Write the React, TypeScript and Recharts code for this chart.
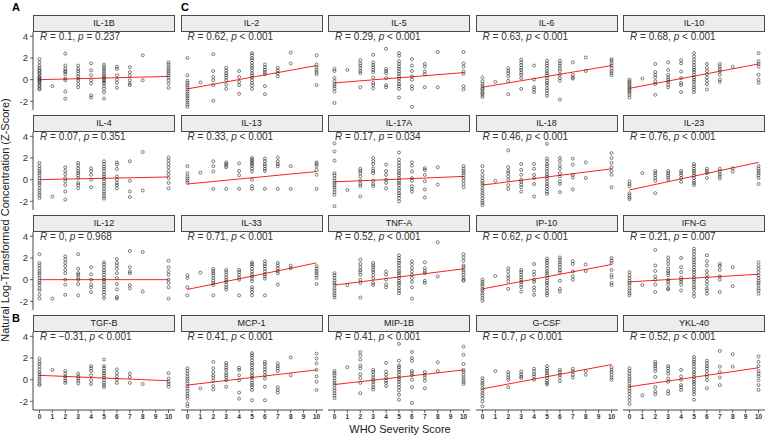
import React from 'react';
import { ScatterChart, Scatter, XAxis, YAxis, ReferenceLine } from 'recharts';

// WHO severity categories (x) present in the data
const severity = [0, 1, 2, 3, 4, 5, 6, 7, 8, 10];
const severityTicks = [0, 1, 2, 3, 4, 5, 6, 7, 8, 9, 10];
const zTicks = [-2, 0, 2, 4];

// Z-scores per severity category (one inner array per category in `severity`)
const il1b = [
  [1.9, 1.6, 1.3, 1.1, 0.9, 0.8, 0.6, 0.5, 0.3, 0.2, 0.1, 0, -0.1, -0.2, -0.3, -0.5, -0.6, -0.8, -0.9],
  [-0.6],
  [2.4, 1.3, 1.0, 0.8, 0.7, 0.5, 0.1, -0.05, -1.1, -1.75],
  [1.3, 1.0, 0.8, 0.55, 0.3, 0.1, -0.1, -0.4, -0.7],
  [1.5, 0.85, 0.4, -0.05, -0.35, -1.45, -1.65],
  [1.4, 1.2, 1.0, 0.8, 0.6, 0.4, 0.25, 0.1, -0.05, -0.2, -0.35, -0.6, -0.85, -1.15, -1.75],
  [1.2, 1.0, 0.4, 0, -0.3, -0.75],
  [1.15, 0.7, 0.4, -0.05, -0.35, -0.5],
  [2.25, -0.05],
  [1.6, 1.4, 1.2, 1.0, 0.8, 0.6, 0.4, 0.2, -0.05, -0.35, -0.75],
];
const il2 = [
  [2.0, 0.4, -0.1, -0.3, -0.5, -0.7, -0.9, -1.1, -1.3, -1.5, -1.7, -1.9, -2.1, -2.3, -2.5],
  [-0.25],
  [2.35, 0.8, 0.25, -0.05, -0.5, -1.95],
  [1.1, 0.85, 0.6, 0.4, 0.2, -0.05, -0.45, -0.85],
  [0.8, 0.25, -0.2, -0.5, -1.3],
  [2.45, 2.25, 2.0, 1.8, 1.55, 1.3, 1.1, 0.85, 0.6, 0.4, 0.2, -0.05, -0.3, -0.55, -0.85],
  [1.4, 1.15, 0.9, 0.7, 0.5, -0.6, -1.35],
  [1.1, 0.85, 0.6, 0.3],
  [2.5, 1.5],
  [2.25, 1.4, 1.15, 0.9, 0.7, 0.5, -0.5],
];
const il5 = [
  [1.0, 0.8, 0.15, -0.15, -0.4, -0.6, -0.8, -1.1, -2.15],
  [0.9],
  [1.8, 1.5, 1.3, 1.05, 0.8, 0.6, -0.7],
  [2.3, 1.6, 1.35, 1.15, 0.9, 0.7, 0.2, -0.3, -0.5, -0.8],
  [2.85, 1.0, 0.8, 0.6, 0.15, -0.5, -0.7],
  [2.45, 2.2, 1.7, 1.45, 1.2, 1.0, 0.75, 0.55, 0.3, 0.1, -0.15, -0.4, -0.6, -0.85, -1.65],
  [1.9, 1.3, 0.8, 0.3, 0, -0.6, -0.85, -2.5],
  [1.45, 1.2, 0.75, 0.5, -0.7],
  [2.55, -0.7],
  [2.55, 1.5, 1.2, 0.75, 0.55, -0.6, -0.9],
];
const il6 = [
  [0.2, -0.15, -0.4, -0.6, -0.8, -0.9, -1.1, -1.25, -1.4, -1.6],
  [-0.2],
  [1.05, 0.8, 0.6, 0.3, -0.1, -1.35],
  [1.85, 1.6, 1.35, 1.1, 0.9, 0.65, 0.45, 0.15, -0.85],
  [1.3, 0, -0.7, -0.9, -1.15],
  [1.75, 1.5, 1.3, 1.05, 0.8, 0.6, 0.4, 0.15, -0.1, -0.3, -0.5, -0.8, -1.0, -1.25, -1.5],
  [1.75, 1.5, 1.3, 1.05, 0.8, 0.45, 0.15, -0.1, -1.85],
  [1.6, 0.45, 0.2, 0.1],
  [2.05, 0.8],
  [1.9, 1.75, 1.5, 1.3, 1.05, 0.8, 0.6, 0.4],
];
const il10 = [
  [0, -0.15, -0.3, -0.45, -0.6, -0.75, -0.9, -1.05, -1.2, -1.4, -1.65],
  [0.1],
  [1.45, 0.7, 0.45, 0.2, -0.15, -0.4, -1.4],
  [1.6, 0.9, 0.45, 0.2, 0, -0.2, -0.45, -0.7],
  [1.8, 1.5, 0.75, 0.15, -0.3, -0.5, -1.15],
  [2.45, 2.15, 1.85, 1.6, 1.35, 1.1, 0.9, 0.7, 0.45, 0.2, 0, -0.2, -0.45, -0.7, -0.9, -1.15],
  [1.45, 1.1, 0.8, 0.5, 0.2, -0.1, -0.4, -0.9],
  [1.45, 1.2, 1.0, 0.75, 0.45, 0, -0.2],
  [1.2],
  [2.45, 1.7, 1.45, 1.2, 0.45, 0, -0.3],
];
const il4 = [
  [1.55, 1.25, 1.0, 0.8, 0.6, 0.4, 0.15, -0.1, -0.3, -0.5, -0.8, -1.0, -1.25, -1.45, -1.7],
  [-1.55],
  [1.15, 0.8, 0.5, 0.15, -0.15, -0.5, -1.1, -1.85],
  [1.55, 1.3, 1.05, 0.8, 0.6, 0.4, 0.15, -0.3, -0.5, -0.8],
  [1.05, 0.8, 0.45, 0, -0.7],
  [1.7, 1.45, 1.2, 1.0, 0.75, 0.5, 0.3, 0.1, -0.15, -0.4, -0.6, -0.85, -1.1, -1.3, -1.55, -1.75],
  [1.6, 1.4, 1.0, 0.3, 0, -0.3, -0.5, -0.8],
  [1.7, -0.1, -1.1, -1.6],
  [2.55, -1.0],
  [2.05, 1.75, 1.45, 1.15, 0.8, 0.5, 0.15, -0.3, -0.8],
];
const il13 = [
  [1.25, 0.6, 0.3, 0.1, -0.1, -0.3],
  [0.65],
  [1.7, 1.25, 0.75, -0.85],
  [1.6, 1.45, 1.3, 1.15, -0.85],
  [1.5, 0.8, 0.4, -0.85],
  [2.0, 1.85, 1.7, 1.55, 1.4, 1.25, 1.0, 0.75, 0, -0.6, -0.85],
  [1.95, 1.7, 1.45, 1.25, 1.0, 0.8, -0.85],
  [2.05, 1.7, 1.45, 1.25, -0.85],
  [1.25, -0.85],
  [1.6, 1.45, 1.25, 0.9, 0.45, -0.85],
];
const il17a = [
  [3.35, 2.6, 1.75, 0.6, 0.4, 0.15, -0.1, -0.3, -0.5, -0.7, -0.9, -1.15, -1.4, -2.45],
  [-0.95],
  [1.0, 0.8, 0.6, 0.3, -0.1, -0.4, -0.6, -1.55],
  [2.0, 1.7, 1.45, 1.05, 0.8, 0.6, -0.1, -0.4, -0.6],
  [1.4, 0.8, 0.45, 0, -0.3, -0.8],
  [2.5, 1.85, 1.55, 1.3, 1.05, 0.8, 0.6, 0.4, 0.15, -0.1, -0.3, -0.5, -0.8, -1.0, -1.25, -1.45, -1.7, -2.0],
  [1.6, 1.3, 0.75, 0.15, -0.1, -0.6, -0.85, -1.1],
  [1.05, 0.9, 0.45, -0.15, -0.9, -1.65],
  [1.15, -0.45],
  [1.25, 1.0, 0.8, 0.6, 0.4, 0.15, -0.1, -0.4, -0.7],
];
const il18 = [
  [1.25, 0.8, 0.45, 0.15, -0.1, -0.3, -0.5, -0.8, -1.0, -1.25, -1.45, -1.7, -1.95, -2.15, -2.35],
  [-0.1],
  [2.7, 1.15, 0.8, 0.6, 0.3, 0, -0.5, -0.85],
  [1.45, 0.9, 0.45, 0, -0.2, -0.45, -0.7, -1.1],
  [1.45, 1.0, 0.45, 0.15, -0.4, -1.55],
  [3.3, 1.95, 1.7, 1.45, 1.25, 1.0, 0.75, 0.5, 0.3, 0.1, -0.15, -0.4, -0.6, -0.85, -1.1, -1.3],
  [2.0, 1.7, 1.3, 1.0, 0.6, 0.3, -0.15, -0.4, -1.15],
  [1.95, 1.4, 0.45, 0.2, -0.9],
  [1.6, 0.15],
  [2.45, 2.0, 1.55, 1.15, 0.8, 0.45, -0.7],
];
const il23 = [
  [-0.15, -0.4, -0.6, -1.25, -1.45, -1.65, -1.8],
  [0.6],
  [0.8, 0.6, 0.4, 0.15, -0.1, -1.25],
  [0.8, 0.6, 0.4, 0.2, 0],
  [0.8, 0.6, 0.4, 0.15, -0.2],
  [1.45, 1.25, 1.0, 0.8, 0.6, 0.4, 0.15, -0.1, -0.3, -0.5],
  [1.0, 0.8, 0.6, 0.15],
  [1.0, 0.75, 0.5, 0.3, 0.1],
  [1.05, 0.75],
  [1.25, 1.0, 0.8, 0.6, 0.4, 0.15, -0.4],
];
const il12 = [
  [2.35, 1.55, 1.3, 1.05, 0.8, 0.6, 0.4, 0.15, -0.1, -0.3, -0.5, -0.8, -1.0, -1.4, -1.75],
  [-1.75],
  [2.15, 1.85, 1.55, 1.25, 0.9, 0.6, 0, -0.45, -1.4],
  [2.35, 1.0, 0.6, 0.45, 0.2, 0, -0.4, -1.45],
  [1.15, 0.5, 0, -0.45, -0.7, -1.15],
  [1.6, 1.4, 1.15, 0.9, 0.7, 0.45, 0.2, 0, -0.2, -0.45, -0.7, -0.9, -1.15, -1.4, -1.7],
  [1.9, 1.55, 1.3, 1.0, 0.6, 0.15, -0.4, -0.9, -1.6, -1.75],
  [2.65, 1.15, 0.75, 0.6, -0.5, -0.8],
  [2.55, -1.1],
  [1.75, 1.15, 0.75, 0.45, 0, -0.3, -0.7, -1.75],
];
const il33 = [
  [0.4, 0.15, -0.7, -1.45],
  [0.65],
  [1.0, 0.8, 0.6, 0.4, 0.15, -0.1, -0.3, -0.5, -1.45],
  [0.9, 0.7, 0.45, 0.2, 0, -0.2, -0.45, -0.7, -0.9],
  [0.9, 0.7, 0.45, 0.2, 0, -1.45],
  [1.6, 1.45, 1.25, 1.0, 0.75, 0.5, 0.3, 0.1, -0.15, -0.7, -0.9, -1.15, -1.45],
  [1.7, 1.45, 1.25, 1.0, 0.75, 0.5, 0.3, 0.1, -1.45],
  [1.55, 1.3, 1.05, 0.8, 0.6, -0.45],
  [1.3, 1.05],
  [1.25, 1.0, 0.8, 0.6, 0.4, 0.15, -0.4],
];
const tnfa = [
  [0.6, 0.4, 0.15, -0.1, -0.3, -0.5, -0.8, -1.0, -1.25, -1.45, -1.65],
  [-0.5],
  [1.85, 1.45, 1.15, 0.9, 0.7, 0.45, 0, -0.3, -1.65],
  [1.55, 1.3, 1.15, 0.9, 0.7, 0.45, 0.15, -0.3, -0.5],
  [0.75, 0.45, 0, -0.45, -0.7],
  [2.25, 2.0, 1.75, 1.55, 1.3, 1.05, 0.8, 0.6, 0.4, 0.15, -0.1, -0.3, -0.5, -0.8, -1.0, -1.25],
  [1.7, 1.4, 1.05, 0.75, 0.45, 0.15, -0.2, -0.7, -1.75],
  [1.6, 1.05, 0.8, 0.6, -0.1, -0.3],
  [3.45, 0.3],
  [2.35, 2.05, 1.75, 1.3, 1.15, 0.9, 0.7, 0.45, 0.2, 0, -0.1],
];
const ip10 = [
  [0, -0.2, -0.4, -0.6, -0.85, -1.0, -1.25, -1.45, -1.7, -1.95],
  [0.35],
  [1.05, 0.75, 0.4, 0.15, -0.15, -0.85],
  [0.9, 0.7, 0.45, 0.2, 0, -0.2, -0.45, -0.7, -1.1],
  [1.45, 0.75, 0.45, 0, -0.2, -0.7, -1.0, -1.4],
  [1.95, 1.75, 1.55, 1.3, 1.05, 0.8, 0.6, 0.4, 0.15, -0.1, -0.3, -0.5, -0.8, -1.0, -1.25, -1.45],
  [2.05, 1.85, 1.6, 1.4, 1.15, 0.9, 0.7, -0.1, -0.85, -1.1],
  [1.7, 1.45, 0.75, 0.3, 0],
  [1.4, 0.8],
  [2.0, 1.75, 1.55, 0.9, 0.45, 0.2, -0.3, -0.5],
];
const ifng = [
  [0.7, 0.4, 0.15, -0.1, -0.3, -0.5, -0.8, -1.0, -1.25, -1.45],
  [-0.5],
  [2.75, 1.3, 0.8, 0.3, 0, -0.45, -1.15],
  [2.05, 1.75, 1.45, 1.05, 0.8, 0.6, 0.4, 0, -0.2, -0.45, -0.8, -0.9],
  [2.0, 1.15, 0.7, 0.2, 0, -0.2, -0.45, -1.0],
  [2.85, 2.6, 2.35, 2.05, 1.85, 1.6, 1.4, 1.15, 0.9, 0.7, 0.45, 0.2, 0, -0.2, -0.45, -0.7, -0.9, -1.25, -1.55],
  [2.25, 1.7, 1.3, 0.8, 0.45, 0.15, -0.15, -0.45, -0.8, -1.0, -1.3],
  [1.45, 1.25, 0.9, 0.3, 0, -1.15],
  [1.15, -0.6],
  [1.6, 1.25, 1.0, 0.7, 0.4, 0.15, -0.1, -0.3, -0.5, -0.8, -1.0, -1.3],
];
const tgfb = [
  [1.95, 1.65, 1.45, 1.2, 0.95, 0.7, 0.5, 0.3, 0.1, -0.1, -0.35, -0.5],
  [0.9],
  [0.8, 0.55, 0.3, 0.1, -0.1, -0.3],
  [0.55, 0.3, 0.1, -0.1, -0.35],
  [1.25, 1.05, 0.8, 0.4, -0.05, -0.4],
  [1.85, 1.25, 1.05, 0.8, 0.6, 0.4, 0.2, -0.05, -0.3, -0.5, -0.7],
  [0.95, 0.6, 0.3, 0, -0.3],
  [0.55, 0.25, -0.3],
  [-0.4],
  [0.6, 0.1, -0.2, -0.4, -0.65],
];
const mcp1 = [
  [1.05, 0.8, 0.55, 0.3, 0.1, -0.1, -0.35, -0.6, -0.8, -1.05, -1.3, -1.5, -1.75, -2.2, -2.45],
  [-0.8],
  [1.65, 1.05, 0.7, 0.4, 0.2, -0.1, -0.6, -0.9],
  [1.55, 1.35, 1.1, 0.9, 0.6, 0.4, 0.2, -0.05, -0.65],
  [1.1, 0.9, 0.4, -0.05, -1.2, -1.75],
  [2.45, 2.25, 2.05, 1.8, 1.55, 1.35, 1.1, 0.9, 0.6, 0.4, 0.2, -0.05, -0.3, -0.5, -0.7, -0.95, -1.9],
  [1.65, 1.45, 1.2, 0.95, 0.7, 0.4, 0.1, -0.65, -1.9],
  [1.5, 1.25, 1.05, 0.8, -0.7, -0.95, -1.2],
  [2.05, 0.4],
  [2.4, 1.95, 1.5, 0.9, 0.3, -0.2, -0.95],
];
const mip1b = [
  [0.8, 0.6, 0.4, 0.15, -0.1, -0.3, -0.5, -0.8, -1.0, -1.25, -1.45, -1.7],
  [1.15],
  [2.55, 2.25, 1.85, 1.3, 1.05, 0.5, 0.15, -0.3, -1.25],
  [0.9, 0.7, 0.45, 0.2, 0, -0.2, -0.45, -0.7, -0.9],
  [1.55, 0.75, 0.45, 0.15, -0.1, -0.3, -0.6],
  [3.3, 1.75, 1.3, 1.15, 0.9, 0.7, 0.45, 0.2, 0, -0.2, -0.45, -0.7, -1.0, -1.4, -1.85],
  [2.55, 2.0, 1.75, 0.8, 0.6, 0.4, 0, -0.7, -2.15],
  [0.7, 0.45, 0.2, -0.1, -0.8],
  [1.6, 0.8],
  [3.05, 2.3, 1.45, 0.9, 0.7, 0.45, 0.2, 0, -0.2, -0.4],
];
const gcsf = [
  [0.15, -0.1, -0.3, -0.5, -0.8, -1.0, -1.25, -1.45, -1.7, -2.0, -2.45],
  [0.8],
  [0.7, 0.45, 0.2, 0, -0.7],
  [0.75, 0.5, 0.3, 0.15],
  [1.0, 0.75, 0.5, 0.3, 0],
  [1.25, 1.0, 0.8, 0.6, 0.4, 0.15, -0.1, -0.3, -0.45],
  [0.9, 0.7, 0.45, 0.2, -0.15],
  [1.0, 0.75, 0.45, 0.2],
  [0.8, 0.45],
  [1.15, 0.9, 0.7, 0.45, 0.2, 0],
];
const ykl40 = [
  [1.05, 0.8, 0.55, 0.3, 0.1, -0.1, -0.35, -0.6, -0.8, -1.05, -1.3, -1.6, -1.9, -2.25],
  [-1.45],
  [1.65, 1.45, 1.25, 1.05, 0.8, 0.25, -0.7, -1.1, -1.35],
  [1.25, 1.05, 0.8, 0.55, 0.1, -0.2, -1.05, -1.3],
  [0.9, 0.3, 0, -0.5, -0.7, -0.95],
  [2.1, 1.85, 1.65, 1.45, 1.2, 0.95, 0.7, 0.5, 0.25, 0, -0.2, -0.4, -0.65, -0.9, -1.1, -1.35, -1.85],
  [1.75, 1.5, 1.25, 1.05, 0.8, 0.5, 0.25, -0.05, -0.8],
  [2.65, 1.2, 0.7, 0.2, -0.5],
  [2.35, 1.2],
  [2.15, 1.65, 1.25, 0.8, 0.55, 0.3, -0.05, -0.5, -0.95],
];

// Fitted regression line values at severity 0 and 10
const fits: Record<string, number[]> = {
  'IL-1B': [0, 0.3], 'IL-2': [-0.85, 1.3], 'IL-5': [-0.3, 0.65], 'IL-6': [-0.7, 1.3], 'IL-10': [-0.8, 1.45],
  'IL-4': [0, 0.25], 'IL-13': [-0.4, 0.75], 'IL-17A': [-0.2, 0.3], 'IL-18': [-0.5, 1.0], 'IL-23': [-0.95, 1.6],
  'IL-12': [0, 0], 'IL-33': [-0.9, 1.55], 'TNF-A': [-0.5, 1.0], 'IP-10': [-0.85, 1.4], 'IFN-G': [-0.2, 0.5],
  'TGF-B': [0.4, -0.1], 'MCP-1': [-0.5, 0.9], 'MIP-1B': [-0.45, 0.9], 'G-CSF': [-0.85, 1.4], 'YKL-40': [-0.65, 1.1],
};

// Correlation statistics: [R, p-text]
const stats: Record<string, string[]> = {
  'IL-1B': ['0.1', '= 0.237'], 'IL-2': ['0.62', '< 0.001'], 'IL-5': ['0.29', '< 0.001'], 'IL-6': ['0.63', '< 0.001'], 'IL-10': ['0.68', '< 0.001'],
  'IL-4': ['0.07', '= 0.351'], 'IL-13': ['0.33', '< 0.001'], 'IL-17A': ['0.17', '= 0.034'], 'IL-18': ['0.46', '< 0.001'], 'IL-23': ['0.76', '< 0.001'],
  'IL-12': ['0', '= 0.968'], 'IL-33': ['0.71', '< 0.001'], 'TNF-A': ['0.52', '< 0.001'], 'IP-10': ['0.62', '< 0.001'], 'IFN-G': ['0.21', '= 0.007'],
  'TGF-B': ['\u22120.31', '< 0.001'], 'MCP-1': ['0.41', '< 0.001'], 'MIP-1B': ['0.41', '< 0.001'], 'G-CSF': ['0.7', '< 0.001'], 'YKL-40': ['0.52', '< 0.001'],
};

const values: Record<string, number[][]> = {
  'IL-1B': il1b, 'IL-2': il2, 'IL-5': il5, 'IL-6': il6, 'IL-10': il10,
  'IL-4': il4, 'IL-13': il13, 'IL-17A': il17a, 'IL-18': il18, 'IL-23': il23,
  'IL-12': il12, 'IL-33': il33, 'TNF-A': tnfa, 'IP-10': ip10, 'IFN-G': ifng,
  'TGF-B': tgfb, 'MCP-1': mcp1, 'MIP-1B': mip1b, 'G-CSF': gcsf, 'YKL-40': ykl40,
};

const grid = [
  ['IL-1B', 'IL-2', 'IL-5', 'IL-6', 'IL-10'],
  ['IL-4', 'IL-13', 'IL-17A', 'IL-18', 'IL-23'],
  ['IL-12', 'IL-33', 'TNF-A', 'IP-10', 'IFN-G'],
  ['TGF-B', 'MCP-1', 'MIP-1B', 'G-CSF', 'YKL-40'],
];

const FONT = '"Liberation Sans", Arial, Helvetica, sans-serif';
const COL_LEFT = [33, 180.5, 328, 475.5, 623];
const ROW_TOP = [15, 115, 215, 315];
const PW = 142;
const STRIP_H = 17;
const PH = 78;

const Circle = (props: any) => {
  const { cx, cy } = props;
  if (cx == null || cy == null) return null;
  return <circle cx={cx} cy={cy} r={1.5} fill="none" stroke="#2b2b2b" strokeWidth={0.6} />;
};

function Panel({ name, row, col }: { name: string; row: number; col: number }) {
  const showX = row === 3;
  const showY = col === 0;
  const yW = showY ? 20 : 0;
  const xH = showX ? 16 : 0;
  const left = COL_LEFT[col];
  const stripTop = ROW_TOP[row];
  const plotTop = stripTop + STRIP_H;
  const pts = values[name].flatMap((vals, i) => vals.map((v) => ({ x: severity[i], y: v })));
  const fit = fits[name];
  const st = stats[name];
  return (
    <>
      <div
        style={{
          position: 'absolute', left, top: stripTop, width: PW, height: STRIP_H, boxSizing: 'border-box',
          border: '1px solid #4a4a4a', background: '#ededed', fontFamily: FONT, fontSize: 9, color: '#1a1a1a',
          textAlign: 'center', lineHeight: '15px',
        }}
      >
        {name}
      </div>
      <div style={{ position: 'absolute', left: left - yW, top: plotTop }}>
        <ScatterChart width={PW + yW} height={PH + xH} margin={{ top: 0, right: 0, bottom: 0, left: 0 }}>
          <XAxis
            type="number" dataKey="x" domain={[-0.5, 10.5]} ticks={severityTicks} hide={!showX} height={xH}
            interval={0} tickSize={3} tickMargin={1.5}
            tick={{ fontSize: 6.5, fontWeight: 700, fill: '#333', fontFamily: FONT }}
            axisLine={{ stroke: '#333', strokeWidth: 0.9 }} tickLine={{ stroke: '#333', strokeWidth: 0.8 }}
          />
          <YAxis
            type="number" dataKey="y" domain={[-2.8, 4.4]} ticks={zTicks} hide={!showY} width={yW}
            interval={0} tickSize={3} tickMargin={2}
            tick={{ fontSize: 9.5, fill: '#333', fontFamily: FONT }}
            axisLine={{ stroke: '#333', strokeWidth: 0.9 }} tickLine={{ stroke: '#333', strokeWidth: 0.8 }}
          />
          <Scatter data={pts} shape={Circle} isAnimationActive={false} />
          <ReferenceLine
            segment={[{ x: 0, y: fit[0] }, { x: 10, y: fit[1] }]}
            stroke="#ff1f1f" strokeWidth={1}
          />
        </ScatterChart>
      </div>
      <div
        style={{
          position: 'absolute', left: left + 7, top: plotTop - 1, fontFamily: FONT, fontSize: 10,
          color: '#333', lineHeight: '12px', whiteSpace: 'nowrap',
        }}
      >
        <i>R</i> = {st[0]}, <i>p</i> {st[1]}
      </div>
    </>
  );
}

export default function App() {
  return (
    <div style={{ position: 'absolute', left: 0, top: 0, width: 767, height: 437, background: '#fff', overflow: 'hidden' }}>
      {grid.map((r, ri) => r.map((n, ci) => <Panel key={n} name={n} row={ri} col={ci} />))}
      <div style={{ position: 'absolute', left: 12, top: 1, fontFamily: FONT, fontWeight: 700, fontSize: 11 }}>A</div>
      <div style={{ position: 'absolute', left: 181, top: 1, fontFamily: FONT, fontWeight: 700, fontSize: 11 }}>C</div>
      <div style={{ position: 'absolute', left: 12, top: 312, fontFamily: FONT, fontWeight: 700, fontSize: 11 }}>B</div>
      <div
        style={{
          position: 'absolute', left: 400 - 150, top: 423, width: 300, textAlign: 'center',
          fontFamily: FONT, fontSize: 11, color: '#1a1a1a', lineHeight: '12px',
        }}
      >
        WHO Severity Score
      </div>
      <div
        style={{
          position: 'absolute', left: 5 - 160, top: 220 - 7, width: 320, height: 14, textAlign: 'center',
          transform: 'rotate(-90deg)', transformOrigin: '160px 7px', fontFamily: FONT, fontSize: 11,
          color: '#1a1a1a', lineHeight: '14px', whiteSpace: 'nowrap',
        }}
      >
        Natural Log-Transformed Concentration (Z-Score)
      </div>
    </div>
  );
}
